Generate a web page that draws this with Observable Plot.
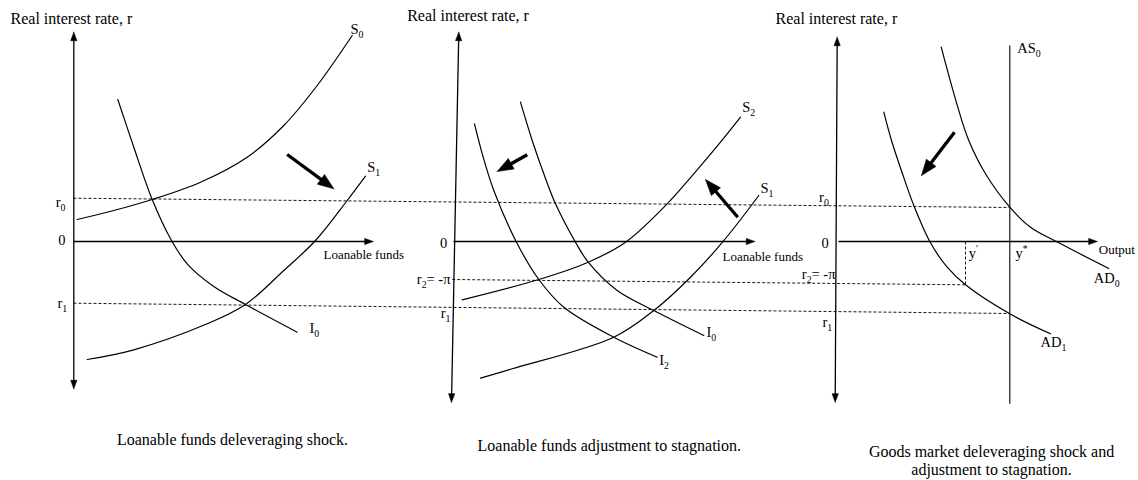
<!DOCTYPE html>
<html>
<head>
<meta charset="utf-8">
<script src="https://cdn.jsdelivr.net/npm/d3@7"></script>
<script src="https://cdn.jsdelivr.net/npm/@observablehq/plot@0.6"></script>
<style>
  body { margin: 0; background: #fff; }
  #chart svg { display: block; }
</style>
</head>
<body>
<div id="chart"></div>
<script>
// ---------------- DATA (quantity q, real interest rate r) ----------------
// Panel 1: loanable funds deleveraging shock
const S0_p1 = [[0.37,2.2],[4.03,3.1],[7.87,4.2],[12.7,5.93],[17.37,8.43],[21.03,11.6],[24.37,15.6],[27.87,20.6]];
const I0_p1 = [[4.43,14.2],[6.03,9.43],[7.87,4.2],[9.8,0.1],[11.37,-2.23],[14.03,-4.5],[17.2,-6.3],[22.37,-9.07]];
const S1_p1 = [[1.37,-11.8],[6.03,-10.83],[13.37,-8.23],[17.2,-6.3],[21.03,-2.9],[24.2,0.1],[27.37,4.1],[29.2,6.53]];
// Panel 2: loanable funds adjustment to stagnation
const I2_p2 = [[1.9,11.77],[2.77,8.43],[3.83,5.1],[6.1,-0.07],[8.33,-3.8],[10.83,-6.57],[15.83,-9.57],[20.17,-11.57]];
const I0_p2 = [[6.5,13.93],[7.67,10.1],[8.83,6.77],[10,3.77],[12,-0.07],[13.27,-2.07],[16.17,-4.9],[19.83,-6.9],[24.83,-9.4]];
const S2_p2 = [[0.67,-5.83],[8.33,-3.8],[13.27,-2.07],[17,-0.07],[21.17,3.77],[23.83,6.77],[26.5,9.93],[28.5,12.43]];
const S1_p2 = [[2.5,-13.67],[5.67,-12.73],[15.83,-9.57],[19.83,-6.9],[23.5,-3.57],[26.7,-0.07],[30.33,4.6]];
// Panel 3: goods market
const AD0_p3 = [[10.47,19.43],[12.13,13.43],[13.23,10.1],[14.9,6.77],[17.33,3.43],[19.4,1.43],[22.23,-0.13],[27.23,-2.7]];
const AD1_p3 = [[4.73,12.93],[5.5,10.1],[6.6,6.77],[7.8,3.43],[9.4,-0.13],[11.07,-2.57],[12.9,-4.33],[17.33,-7.23],[21.4,-9.23]];
const yStar = 17.33;           // AS0 (potential output y*)
const yPrime = 12.9;           // y'
// Interest-rate levels, drawn as dashed guides: [panel, q, r] at start and end
const rLevelNames = ["r0", "r1", "r2"];
const rLevelStart = [[0,0,4.33],[0,0,-6.17],[1,-0.33,-3.8]];
const rLevelEnd   = [[2,17.33,3.4],[2,17.33,-7.2],[2,12.9,-4.33]];
// Shift arrows: [panel, q from, r from, q to, r to]
const shiftArrows = [[0,21.37,8.7,26.03,5.27],[1,7.17,8.67,4.17,7.0],[1,28.23,2.43,25,6.2],[2,11.8,10.93,8.5,6.6]];

// Texts
const yTitle = "Real interest rate, r";
const xTitles = ["Loanable funds", "Loanable funds", "Output"];
const captions = [["Loanable funds deleveraging shock."], ["Loanable funds adjustment to stagnation."], ["Goods market deleveraging shock and", "adjustment to stagnation."]];

// ---------------- LAYOUT ----------------
const panelOffset = [0, 38.2, 76.3];          // horizontal offset of each panel's origin
const yAxisEnds = [[0.03,-14.73,0.03,20.93],[-0.4,-16.07,0.33,20.93],[-0.13,-16.07,0.07,20.43]];
const xAxisEnds = [[0,29.97],[-0.2,29.93],[0.2,26.07]];
const asEnds = [-16.23, 19.6];
const titlePos = [[-6.3,22.27],[-4.83,22.6],[-6.1,22.27]];
const captionPos = [[15.9,-19.85],[15.38,-20.45],[15.5,-21.07]];
const captionLineGap = 1.76;
const xTitlePos = [[25.0,-1.3],[26.7,-1.5],[26.23,-0.83]];
// curve/point labels: [panel, q, r, text, anchor]
const labelPos = [
  [0,27.7,21.2,"S_0","start"],[0,29.37,7.43,"S_1","start"],[0,23.6,-8.73,"I_0","start"],
  [1,28.67,13.43,"S_2","start"],[1,30.5,5.27,"S_1","start"],[1,25.1,-9.13,"I_0","start"],[1,20.37,-11.9,"I_2","start"],
  [2,18.07,19.27,"AS_0","start"],[2,25.73,-3.73,"AD_0","start"],[2,20.4,-10.07,"AD_1","start"],
  [2,13.23,-1.23,"y^′","start"],[2,17.9,-1.23,"y^*","start"],
  [0,-0.8,3.93,"r_0","end"],[0,-0.8,0.1,"0","end"],[0,-0.63,-6.23,"r_1","end"],
  [1,-0.83,-0.23,"0","end"],[1,-0.5,-3.77,"r_2= -π","end"],[1,-0.5,-7.23,"r_1","end"],
  [2,-0.77,4.43,"r_0","end"],[2,-0.77,-0.23,"0","end"],[2,-0.1,-3.3,"r_2= -π","end"],[2,-0.43,-8.07,"r_1","end"]
];

// ---------------- BUILD ----------------
const X = (p, q) => panelOffset[p] + q;
const curveDefs = [
  [0,"S0",S0_p1],[0,"I0",I0_p1],[0,"S1",S1_p1],
  [1,"I2",I2_p2],[1,"I0",I0_p2],[1,"S2",S2_p2],[1,"S1",S1_p2],
  [2,"AD0",AD0_p3],[2,"AD1",AD1_p3]
];
const curveRows = curveDefs.flatMap(([p, name, pts]) => pts.map(([q, r]) => ({id: p + name, x: X(p, q), y: r})));

const shafts = [], heads = [];
function addArrow(x1, y1, x2, y2, L, W, both, width) {
  const dx = x2 - x1, dy = y2 - y1, len = Math.hypot(dx, dy);
  const ux = dx / len, uy = dy / len;
  const mk = (tx, ty, sx, sy) => {
    const bx = tx - sx * L, by = ty - sy * L;
    const nx = -sy * W / 2, ny = sx * W / 2;
    const id = "h" + heads.length;
    [[tx,ty],[bx+nx,by+ny],[bx-nx,by-ny],[tx,ty]].forEach(([a,b]) => heads.push({id, x: a, y: b}));
  };
  let sx1 = x1, sy1 = y1;
  const sx2 = x2 - ux * L * 0.7, sy2 = y2 - uy * L * 0.7;
  mk(x2, y2, ux, uy);
  if (both) { mk(x1, y1, -ux, -uy); sx1 = x1 + ux * L * 0.7; sy1 = y1 + uy * L * 0.7; }
  shafts.push({x1: sx1, y1: sy1, x2: sx2, y2: sy2, w: width});
}
yAxisEnds.forEach(([q1, r1, q2, r2], p) => addArrow(X(p,q1), r1, X(p,q2), r2, 0.85, 0.62, true, 1.3));
xAxisEnds.forEach(([q1, q2], p) => addArrow(X(p,q1), 0, X(p,q2), 0, 0.85, 0.62, false, 1.3));
shiftArrows.forEach(([p, q1, r1, q2, r2]) => addArrow(X(p,q1), r1, X(p,q2), r2, 1.6, 1.2, false, 3.3));

const dashed = rLevelNames.map((n, i) => ({
  x1: X(rLevelStart[i][0], rLevelStart[i][1]), y1: rLevelStart[i][2],
  x2: X(rLevelEnd[i][0], rLevelEnd[i][1]), y2: rLevelEnd[i][2]
}));
dashed.push({x1: X(2, yPrime), y1: 0, x2: X(2, yPrime), y2: -4.33});

const solid = [{x1: X(2, yStar), y1: asEnds[0], x2: X(2, yStar), y2: asEnds[1]}];

const titleRows = titlePos.map(([q, r], p) => ({x: X(p, q), y: r, t: yTitle}));
const captionRows = captions.flatMap((lines, p) => lines.map((t, k) => ({x: X(p, captionPos[p][0]), y: captionPos[p][1] - k * captionLineGap, t})));
const xTitleRows = xTitlePos.map(([q, r], p) => ({x: X(p, q), y: r, t: xTitles[p]}));
const startLabels = labelPos.filter(d => d[4] === "start").map(([p, q, r, t]) => ({x: X(p, q), y: r, t}));
const endLabels = labelPos.filter(d => d[4] === "end").map(([p, q, r, t]) => ({x: X(p, q), y: r, t}));

const font = "'Liberation Serif', 'Times New Roman', Times, serif";
const chart = Plot.plot({
  width: 1138, height: 480,
  marginTop: 0, marginRight: 0, marginBottom: 0, marginLeft: 0,
  x: {domain: [-7.3, 106.5], axis: null},
  y: {domain: [-23.9, 24.1], axis: null},
  style: {fontFamily: font, background: "white", color: "black", overflow: "visible"},
  marks: [
    Plot.link(dashed, {x1: "x1", y1: "y1", x2: "x2", y2: "y2", stroke: "black", strokeWidth: 0.9, strokeDasharray: "3,2"}),
    Plot.link(solid, {x1: "x1", y1: "y1", x2: "x2", y2: "y2", stroke: "black", strokeWidth: 1.1}),
    Plot.line(curveRows, {x: "x", y: "y", z: "id", curve: "catmull-rom", stroke: "black", strokeWidth: 1.2}),
    Plot.link(shafts, {x1: "x1", y1: "y1", x2: "x2", y2: "y2", stroke: "black", strokeWidth: "w"}),
    Plot.line(heads, {x: "x", y: "y", z: "id", fill: "black", stroke: "black", strokeWidth: 0.6}),
    Plot.text(titleRows, {x: "x", y: "y", text: "t", textAnchor: "start", fontSize: 16, fontFamily: font, fill: "black"}),
    Plot.text(captionRows, {x: "x", y: "y", text: "t", textAnchor: "middle", fontSize: 16, fontFamily: font, fill: "black"}),
    Plot.text(xTitleRows, {x: "x", y: "y", text: "t", textAnchor: "start", fontSize: 13, fontFamily: font, fill: "black"}),
    Plot.text(startLabels, {x: "x", y: "y", text: "t", textAnchor: "start", fontSize: 14.5, fontFamily: font, fill: "black"}),
    Plot.text(endLabels, {x: "x", y: "y", text: "t", textAnchor: "end", fontSize: 14.5, fontFamily: font, fill: "black"})
  ]
});

// turn "_x" into subscripts and "^x" into superscripts, keeping real text
const NS = "http://www.w3.org/2000/svg";
chart.querySelectorAll("text").forEach(t => {
  const s = t.textContent;
  if (!/[_^]/.test(s)) return;
  const parts = s.split(/([_^].)/).filter(Boolean);
  t.textContent = "";
  let cur = 0;
  parts.forEach(part => {
    const ts = document.createElementNS(NS, "tspan");
    let target = 0, txt = part;
    if (part[0] === "_") { target = 4; txt = part.slice(1); ts.style.fontSize = "68%"; }
    else if (part[0] === "^") { target = -6; txt = part.slice(1); ts.style.fontSize = "68%"; }
    ts.setAttribute("dy", target - cur);
    cur = target;
    ts.textContent = txt;
    t.appendChild(ts);
  });
});

document.getElementById("chart").appendChild(chart);
</script>
</body>
</html>
